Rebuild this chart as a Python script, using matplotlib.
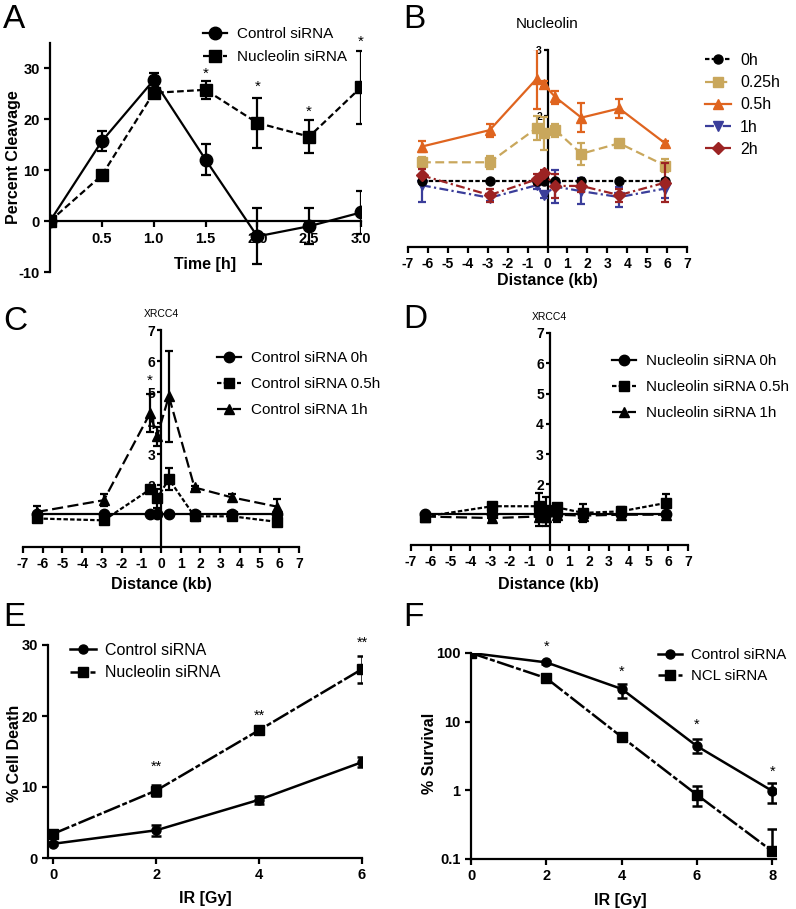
import matplotlib
matplotlib.use("Agg")
import matplotlib.pyplot as plt
from matplotlib.container import ErrorbarContainer

plt.rcParams["font.family"] = ["Liberation Sans", "DejaVu Sans"]
plt.rcParams["axes.unicode_minus"] = False

W, H = 796, 909

# Panel A: percent cleavage over time
time_h = [0, 0.5, 1.0, 1.5, 2.0, 2.5, 3.0]
a_ctrl = [0, 15.7, 27.7, 12.1, -3.0, -1.0, 1.7]
a_ctrl_err = [0, 2.0, 1.5, 3.0, 5.5, 3.5, 4.3]
a_ncl = [0, 9.0, 25.2, 25.8, 19.3, 16.6, 26.3]
a_ncl_err = [0, 0.5, 1.0, 1.8, 4.9, 3.3, 7.2]
a_star_x = [1.5, 2.0, 2.5, 3.0]
a_star_y = [29.0, 26.3, 21.4, 35.2]

# Panels B-D: ChIP enrichment vs distance
dist_kb = [-6.3, -2.9, -0.55, -0.2, 0.4, 1.7, 3.6, 5.9]
b_labels = ["0h", "0.25h", "0.5h", "1h", "2h"]
b_vals = [
    [1.0, 1.0, 1.0, 1.0, 1.0, 1.0, 1.0, 1.0],
    [1.29, 1.29, 1.81, 1.73, 1.78, 1.42, 1.58, 1.24],
    [1.53, 1.78, 2.56, 2.48, 2.28, 1.97, 2.11, 1.58],
    [0.94, 0.75, 0.94, 0.79, 0.92, 0.85, 0.76, 0.89],
    [1.09, 0.79, 1.03, 1.12, 0.93, 0.93, 0.79, 0.98],
]
b_errs = [
    [0, 0, 0, 0, 0, 0, 0, 0],
    [0.08, 0.1, 0.18, 0.25, 0.1, 0.17, 0.03, 0.1],
    [0.08, 0.1, 0.46, 0.05, 0.1, 0.22, 0.15, 0.04],
    [0.25, 0.05, 0.05, 0.05, 0.25, 0.2, 0.15, 0.15],
    [0.1, 0.1, 0.08, 0.05, 0.18, 0.1, 0.1, 0.3],
]

c_labels = ["Control siRNA 0h", "Control siRNA 0.5h", "Control siRNA 1h"]
c_vals = [
    [1.05, 1.05, 1.05, 1.05, 1.05, 1.05, 1.05, 1.05],
    [0.92, 0.86, 1.86, 1.57, 2.19, 0.99, 0.99, 0.81],
    [1.13, 1.51, 4.32, 3.57, 4.86, 1.92, 1.6, 1.3],
]
c_errs = [
    [0, 0, 0, 0, 0, 0, 0, 0],
    [0.1, 0.1, 0.1, 0.3, 0.35, 0.15, 0.05, 0.1],
    [0.2, 0.2, 0.6, 0.3, 1.47, 0.05, 0.1, 0.25],
]

d_labels = ["Nucleolin siRNA 0h", "Nucleolin siRNA 0.5h", "Nucleolin siRNA 1h"]
d_vals = [
    [1.02, 1.02, 1.02, 1.02, 1.02, 1.02, 1.02, 1.02],
    [0.94, 1.28, 1.28, 1.17, 1.24, 1.06, 1.11, 1.39],
    [0.94, 0.89, 0.94, 0.94, 1.0, 0.97, 1.0, 1.0],
]
d_errs = [
    [0, 0, 0, 0, 0, 0, 0, 0],
    [0.05, 0.1, 0.45, 0.4, 0.1, 0.3, 0.15, 0.3],
    [0.05, 0.05, 0.3, 0.3, 0.25, 0.1, 0.05, 0.05],
]

# Panel E: cell death
ir_e = [0, 2, 4, 6]
e_ctrl = [2.0, 3.9, 8.2, 13.5]
e_ctrl_err = [0.2, 0.8, 0.6, 0.7]
e_ncl = [3.4, 9.5, 18.0, 26.6]
e_ncl_err = [0.3, 0.8, 0.3, 1.9]
e_star_y = [12.8, 20.0, 30.3]

# Panel F: clonogenic survival
ir_f = [0, 2, 4, 6, 8]
f_ctrl = [100, 73, 30, 4.4, 0.98]
f_ctrl_lo = [0, 3, 8, 0.9, 0.33]
f_ctrl_hi = [0, 3, 5, 1.1, 0.32]
f_ncl = [100, 43, 6.0, 0.86, 0.13]
f_ncl_lo = [0, 2, 0.3, 0.26, 0.0]
f_ncl_hi = [0, 2, 0.3, 0.28, 0.14]
f_star_x = [2, 4, 6, 8]
f_star_y = [125, 53, 9.1, 1.85]


def add_ax(fig, left, top, right, bottom):
    return fig.add_axes([left / W, 1 - bottom / H, (right - left) / W, (bottom - top) / H])


def style_ax(ax, size=10):
    for s in ["top", "right"]:
        ax.spines[s].set_visible(False)
    for s in ["left", "bottom"]:
        ax.spines[s].set_linewidth(1.6)
    ax.tick_params(width=1.6, length=4, labelsize=size)
    for lab in ax.get_xticklabels() + ax.get_yticklabels():
        lab.set_fontweight("bold")


def legend_at(ax, x, y, spacing=0.6, size=11):
    # use only the data lines as legend handles (no error bars)
    handles, labels = ax.get_legend_handles_labels()
    handles = [h[0] if isinstance(h, ErrorbarContainer) else h for h in handles]
    ax.legend(handles, labels, loc="upper left", bbox_to_anchor=(x / W, 1 - y / H),
              bbox_transform=ax.figure.transFigure, frameon=False,
              handlelength=1.6, handletextpad=0.6, labelspacing=spacing,
              fontsize=size, borderaxespad=0, borderpad=0)


fig = plt.figure(figsize=(W / 100, H / 100), dpi=100)

# ---------------- A ----------------
ax = add_ax(fig, 50, 43, 361, 272)
ax.errorbar(time_h, a_ctrl, yerr=a_ctrl_err, color="black", lw=1.6, marker="o",
            ms=9, capsize=3.5, elinewidth=1.6, capthick=1.6, label="Control siRNA", zorder=3)
ax.errorbar(time_h, a_ncl, yerr=a_ncl_err, color="black", lw=1.6, marker="s",
            ms=9, capsize=3.5, elinewidth=1.6, capthick=1.6, ls=(0, (3, 1.5)),
            label="Nucleolin siRNA", zorder=3)
for x, y in zip(a_star_x, a_star_y):
    ax.text(x, y, "*", ha="center", va="center", fontsize=11)
ax.set_xlim(0, 3.0)
ax.set_ylim(-10, 35)
ax.spines["bottom"].set_position(("data", 0))
ax.set_xticks([0.5, 1.0, 1.5, 2.0, 2.5, 3.0])
ax.set_xticklabels(["0.5", "1.0", "1.5", "2.0", "2.5", "3.0"])
ax.set_yticks([-10, 0, 10, 20, 30])
style_ax(ax, 10.5)
ax.spines["left"].set_bounds(-10, 35)
legend_at(ax, 203, 27, spacing=0.6, size=11)
fig.text(205 / W, 1 - 265 / H, "Time [h]", ha="center", va="center",
         fontsize=11.5, fontweight="bold")
fig.text(14 / W, 1 - 157 / H, "Percent Cleavage", ha="center", va="center",
         rotation=90, fontsize=11.5, fontweight="bold")

# ---------------- B ----------------
ax = add_ax(fig, 408, 50, 687, 247)
b_colors = ["black", "#C9A75C", "#DF641F", "#3A3D9A", "#9C2323"]
b_markers = ["o", "s", "^", "v", "D"]
b_styles = [(0, (2, 1)), (0, (4, 2)), "-", (0, (4, 1.5, 1, 1.5)), (0, (4, 1.5, 1, 1.5))]
b_z = [4, 3, 5, 3, 4]
for vals, errs, col, mk, ls, lab, z in zip(b_vals, b_errs, b_colors, b_markers,
                                          b_styles, b_labels, b_z):
    ax.errorbar(dist_kb, vals, yerr=errs, color=col, marker=mk, ms=6.5 if mk != "D" else 6,
                lw=1.6, ls=ls, capsize=3, elinewidth=1.6, capthick=1.6, label=lab, zorder=z)
ax.set_xlim(-7, 7)
ax.set_ylim(0, 3)
ax.spines["left"].set_position(("data", 0))
ax.set_xticks(range(-7, 8))
ax.set_yticks([1, 2, 3])
ax.set_yticklabels(["", "2", "3"])
style_ax(ax, 10)
ax.tick_params(axis="y", labelsize=7.5, length=3, pad=1)
legend_at(ax, 705, 53, spacing=0.45, size=11.5)
ax.set_title("Nucleolin", fontsize=11, y=1.07)
fig.text(547 / W, 1 - 280 / H, "Distance (kb)", ha="center", va="center",
         fontsize=11.5, fontweight="bold")

# ---------------- C & D ----------------
cd_markers = ["o", "s", "^"]
cd_styles = ["-", (0, (2, 1)), (0, (5, 2))]
for (l, t, r, b, lx, ly, labels, vals_all, errs_all, cx) in [
        (23, 330, 299, 547, 217, 351, c_labels, c_vals, c_errs, 161),
        (411, 333, 688, 545, 612, 354, d_labels, d_vals, d_errs, 548)]:
    ax = add_ax(fig, l, t, r, b)
    for vals, errs, mk, ls, lab in zip(vals_all, errs_all, cd_markers, cd_styles, labels):
        ax.errorbar(dist_kb, vals, yerr=errs, color="black", marker=mk, ms=7.5,
                    lw=1.6, ls=ls, capsize=3, elinewidth=1.6, capthick=1.6,
                    label=lab, zorder=3)
    ax.set_xlim(-7, 7)
    ax.set_ylim(0, 7)
    ax.spines["left"].set_position(("data", 0))
    ax.set_xticks(range(-7, 8))
    ax.set_yticks(range(1, 8))
    ax.set_yticklabels([""] + [str(v) for v in range(2, 8)])
    style_ax(ax, 10)
    ax.tick_params(axis="y", length=3, pad=1)
    legend_at(ax, lx, ly, spacing=0.8, size=11)
    ax.set_title("XRCC4", fontsize=7.5, y=1.02)
    fig.text(cx / W, 1 - 585 / H, "Distance (kb)", ha="center", va="center",
             fontsize=11.5, fontweight="bold")
    if labels is c_labels:
        ax.text(-0.55, 5.35, "*", ha="center", va="center", fontsize=11)

# ---------------- E ----------------
ax = add_ax(fig, 48, 645, 362, 858)
ax.errorbar(ir_e, e_ctrl, yerr=e_ctrl_err, color="black", marker="o", ms=6.5, lw=1.8,
            capsize=3.5, elinewidth=1.8, capthick=1.8, label="Control siRNA", zorder=3)
ax.errorbar(ir_e, e_ncl, yerr=e_ncl_err, color="black", marker="s", ms=6.5, lw=1.8,
            ls=(0, (7, 1, 2, 1)), capsize=3.5, elinewidth=1.8, capthick=1.8,
            label="Nucleolin siRNA", zorder=3)
for x, y in zip(ir_e[1:], e_star_y):
    ax.text(x, y, "**", ha="center", va="center", fontsize=10.5)
ax.set_xlim(-0.1, 6.0)
ax.set_ylim(0, 30)
ax.set_xticks([0, 2, 4, 6])
ax.set_yticks([0, 10, 20, 30])
style_ax(ax, 10.5)
legend_at(ax, 70, 643, spacing=0.45, size=11.5)
fig.text(205 / W, 1 - 898 / H, "IR [Gy]", ha="center", va="center",
         fontsize=11.5, fontweight="bold")
fig.text(15 / W, 1 - 753 / H, "% Cell Death", ha="center", va="center",
         rotation=90, fontsize=11.5, fontweight="bold")

# ---------------- F ----------------
ax = add_ax(fig, 471, 653, 776, 859)
ax.errorbar(ir_f, f_ctrl, yerr=[f_ctrl_lo, f_ctrl_hi], color="black", marker="o", ms=6.5,
            lw=1.8, capsize=3.5, elinewidth=1.8, capthick=1.8, label="Control siRNA", zorder=3)
ax.errorbar(ir_f, f_ncl, yerr=[f_ncl_lo, f_ncl_hi], color="black", marker="s", ms=6.5,
            lw=1.8, ls=(0, (7, 1, 2, 1)), capsize=3.5, elinewidth=1.8, capthick=1.8,
            label="NCL siRNA", zorder=3)
for x, y in zip(f_star_x, f_star_y):
    ax.text(x, y, "*", ha="center", va="center", fontsize=10.5)
ax.set_yscale("log")
ax.set_xlim(0, 8.1)
ax.set_ylim(0.1, 100)
ax.set_xticks([0, 2, 4, 6, 8])
ax.set_yticks([0.1, 1, 10, 100])
ax.set_yticklabels(["0.1", "1", "10", "100"])
ax.minorticks_off()
style_ax(ax, 10.5)
legend_at(ax, 658, 648, spacing=0.5, size=10.8)
fig.text(620 / W, 1 - 900 / H, "IR [Gy]", ha="center", va="center",
         fontsize=11.5, fontweight="bold")
fig.text(430 / W, 1 - 753 / H, "% Survival", ha="center", va="center",
         rotation=90, fontsize=11.5, fontweight="bold")

# panel letters
for letter, x, y in [("A", 3, 20), ("B", 403, 20), ("C", 3, 322),
                     ("D", 403, 320), ("E", 3, 618), ("F", 403, 618)]:
    fig.text(x / W, 1 - y / H, letter, fontsize=24, va="center", ha="left")

fig.savefig("out.png", dpi=100)
